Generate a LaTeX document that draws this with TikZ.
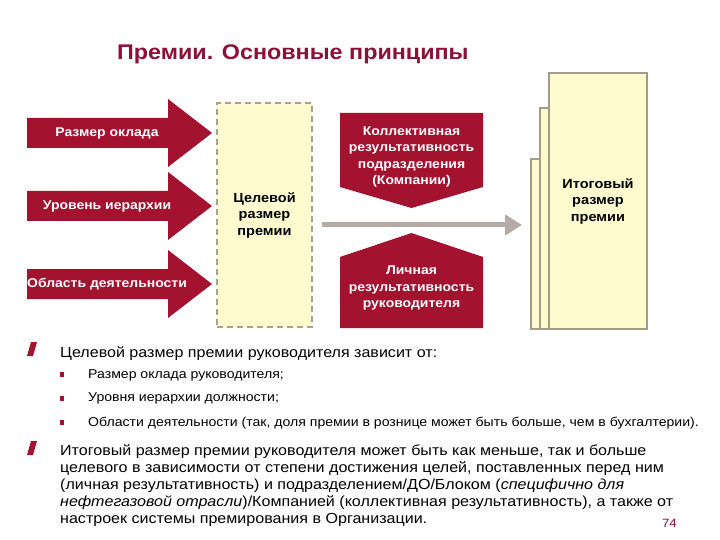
\documentclass[tikz,border=0pt]{standalone}
\usepackage{fontspec}
\setmainfont{Liberation Sans}[FakeStretch=1.1]
\usepackage{tikz}
\usetikzlibrary{
	arrows.meta,
	positioning,
	calc
}
\usepackage{xcolor}
\definecolor{premred}{HTML}{A3122F}
\definecolor{titlered}{HTML}{8C1038}
\definecolor{boxfill}{HTML}{FFFBCF}
\definecolor{dashline}{HTML}{A3A38E}
\definecolor{stackline}{HTML}{A39C86}
\definecolor{flowgrey}{HTML}{B4ACA4}

\begin{document}
\begin{tikzpicture}[
			x=1pt,y=-1pt,
			redfill/.style={fill=premred,draw=none},
			arrowtext/.style={text=white,font=\bfseries\fontsize{12.7}{16.3}\selectfont,align=center,inner sep=0pt},
			boxtext/.style={font=\bfseries\fontsize{13.2}{16.5}\selectfont,align=center,inner sep=0pt},
			targetbox/.style={draw=dashline,fill=boxfill,line width=1.3pt,dash pattern=on 6pt off 4pt},
			stackbox/.style={draw=stackline,fill=boxfill,line width=1.3pt},
			bodytext/.style={font=\fontsize{14.6}{16.8}\selectfont,align=left,inner sep=0pt},
			subtext/.style={font=\fontsize{12.8}{15}\selectfont,inner sep=0pt},
			>=Stealth
			]
			
			\useasboundingbox[fill=white] (0,0) rectangle (720,540);
			
			% Title
			\node[font=\bfseries\fontsize{21.2}{25}\selectfont,text=titlered,anchor=base west,inner sep=0pt] (title) at (117,60){Премии. Основные принципы};
			
			% Input arrows
			\foreach \y/\txt/\n in {133/Размер оклада/a1,206/Уровень иерархии/a2,284/Область деятельности/a3}
			{
				\fill[redfill] (27,\y-15)--(168,\y-15)--(168,\y-34)--(212,\y)--(168,\y+34)--(168,\y+15)--(27,\y+15)--cycle;
				\node[arrowtext] (\n) at (107,\y){\txt};
			}
			
			% Target bonus
			\node[targetbox,boxtext,minimum width=95,minimum height=224] (target) at (264.5,215){Целевой\\размер\\премии};
			
			% Final bonus (stacked sheets)
			\node[stackbox,minimum width=98,minimum height=170] (s1) at (580,244){};
			\node[stackbox,minimum width=98,minimum height=221] (s2) at (589,218.5){};
			\node[stackbox,boxtext,minimum width=98,minimum height=256] (s3) at (598,201){Итоговый\\размер\\премии};
			
			% Flow arrow
			\coordinate (fs) at (322,225);
			\coordinate (fe) at (522,225);
			\draw[flowgrey,line width=5pt,-{Triangle[length=17pt,width=20pt]}] (fs)--(fe);
			
			% Collective and personal performance
			\fill[redfill] (340,113)--(483,113)--(483,187)--(411.5,208)--(340,187)--cycle;
			\node[arrowtext] (coll) at (411.5,157){Коллективная\\результативность\\подразделения\\(Компании)};
			\fill[redfill] (340,328)--(483,328)--(483,257)--(411.5,233)--(340,257)--cycle;
			\node[arrowtext] (pers) at (411.5,288){Личная\\результативность\\руководителя};
			
			% Bullets
			\foreach \y in {356,455}
			{
				\fill[redfill] (27,\y)--(31,\y-14)--(37,\y-14)--(33,\y)--cycle;
			}
			\foreach \y in {374,398,422}
			{
				\fill[redfill] (60,\y-2.5) rectangle (64,\y+2.5);
			}
			
			\node[bodytext,anchor=base west] (b1) at (60,357){Целевой размер премии руководителя зависит от:};
			\node[subtext,anchor=base west] (c1) at (88,378){Размер оклада руководителя;};
			\node[subtext,anchor=base west] (c2) at (88,401){Уровня иерархии должности;};
			\node[subtext,anchor=base west] (c3) at (88,426){Области деятельности (так, доля премии в рознице может быть больше, чем в бухгалтерии).};
			% base of a multi-line node is its last line
			\node[bodytext,anchor=base west] (b2) at (60,523){Итоговый размер премии руководителя может быть как меньше, так и больше\\
				целевого в зависимости от степени достижения целей, поставленных перед ним\\
				(личная результативность) и подразделением/ДО/Блоком (\textit{специфично для}\\
				\textit{нефтегазовой отрасли})/Компанией (коллективная результативность), а также от\\
				настроек системы премирования в Организации.};
			
			% Page number
			\node[font=\fontsize{12}{14}\selectfont,text=titlered,anchor=base east,inner sep=0pt] (page) at (677,527){74};
			
		\end{tikzpicture}
\end{document}
